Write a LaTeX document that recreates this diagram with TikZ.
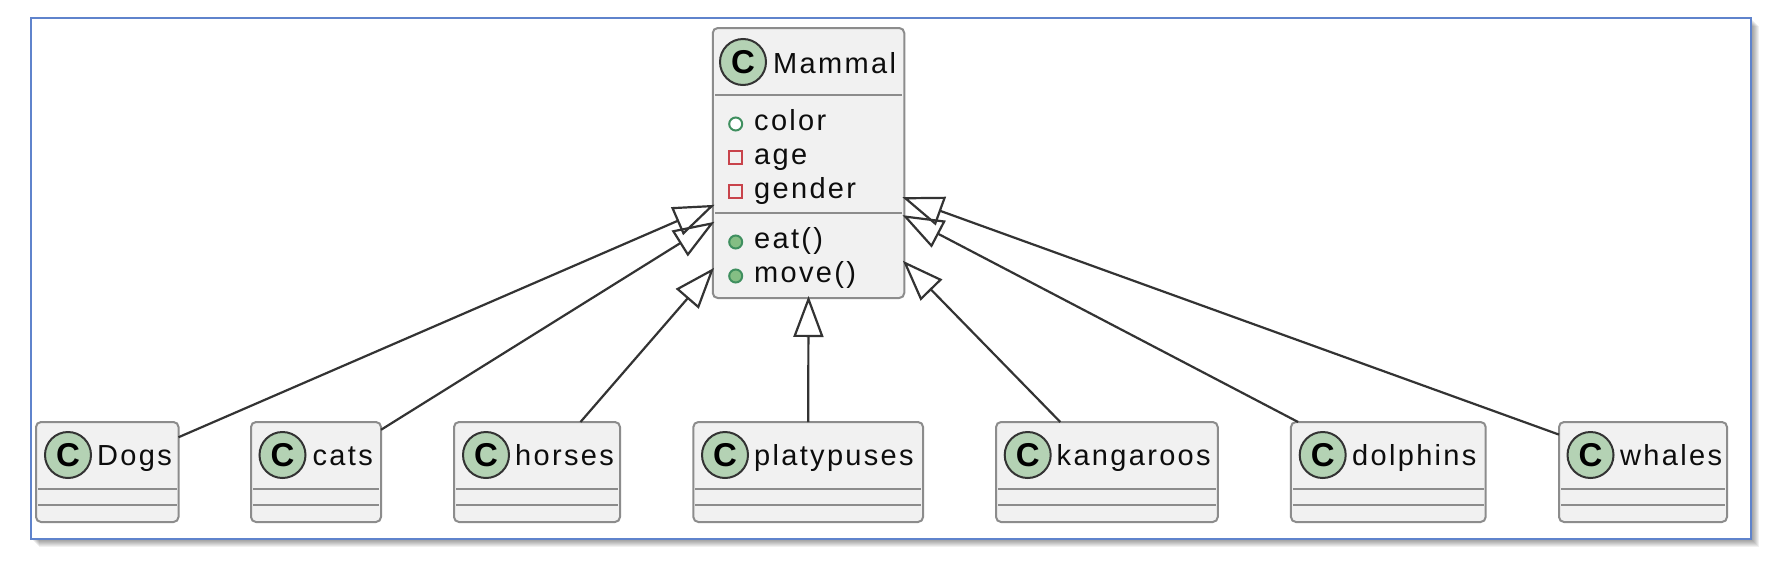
\documentclass[tikz,border=0pt]{standalone}
\usepackage{fontspec}
\setmainfont{Liberation Sans}
\newfontfamily\umlfont[LetterSpace=8]{Liberation Sans}
\usetikzlibrary{arrows.meta}
\definecolor{framecol}{HTML}{5F83CC}
\definecolor{boxfill}{HTML}{F1F1F1}
\definecolor{boxline}{HTML}{8C8C8C}
\definecolor{spotfill}{HTML}{B4D2B4}
\definecolor{spotline}{HTML}{333333}
\definecolor{pubfill}{HTML}{84BE84}
\definecolor{publine}{HTML}{3F8F5F}
\definecolor{privline}{HTML}{C8434B}
\tikzset{
	classbox/.style={draw=boxline, fill=boxfill, line width=2pt, rounded corners=5pt, outer sep=0pt, inner sep=0pt, minimum height=100pt},
	sepline/.style={draw=boxline, line width=2pt, shorten <=2pt, shorten >=2pt},
	spot/.style={circle, draw=spotline, fill=spotfill, line width=2pt, minimum size=46pt, inner sep=0pt, font=\fontsize{33}{33}\selectfont\bfseries},
	umltext/.style={anchor=base west, inner sep=0pt, text=black!95, font=\fontsize{29}{32}\selectfont\umlfont},
	pubop/.style={circle, draw=publine, fill=pubfill, line width=2pt, minimum size=13pt, inner sep=0pt},
	pubattr/.style={circle, draw=publine, fill=white, line width=2pt, minimum size=13pt, inner sep=0pt},
	privattr/.style={rectangle, draw=privline, fill=none, line width=2pt, minimum size=13pt, inner sep=0pt},
	extends/.style={draw=black!80, line width=2.2pt, shorten >=-2pt, -{Triangle[open, length=41pt, width=30pt]}}
}
\begin{document}
\begin{tikzpicture}[x=1pt, y=-1pt]
	\useasboundingbox (0,0) rectangle (1782,568);
	\foreach \s in {1,...,8}{
		\fill[black, opacity=0.06] (31+\s,18+\s) rectangle (1751+\s,539+\s);
	}
	\draw[draw=framecol, fill=white, line width=2pt] (31,18) rectangle (1751,539);
	\node[classbox, minimum width=191.5pt, minimum height=270pt] (mammal) at (808.5,163) {};
	\draw[sepline] (mammal.west |- 0,95) -- (mammal.east |- 0,95);
	\draw[sepline] (mammal.west |- 0,213) -- (mammal.east |- 0,213);
	\node[spot] (mammalspot) at (743,62) {C};
	\node[umltext] (mammaltitle) at (773,73) {Mammal};
	\node[pubattr] (coloricon) at (735.7,124) {};
	\node[privattr] (ageicon) at (735.7,157.5) {};
	\node[privattr] (gendericon) at (735.7,191) {};
	\node[pubop] (eaticon) at (735.7,242) {};
	\node[pubop] (moveicon) at (735.7,276) {};
	\node[umltext] (colortext) at (754,130) {color};
	\node[umltext] (agetext) at (754,164) {age};
	\node[umltext] (gendertext) at (754,198) {gender};
	\node[umltext] (eattext) at (754,248) {eat()};
	\node[umltext] (movetext) at (754,282) {move()};
	\foreach \n/\t/\xc/\w/\xs/\xt in {
		dogs/Dogs/107.25/142.5/68/97,
		cats/cats/316/130/282.5/312.5,
		horses/horses/537/166/486/515,
		platypuses/platypuses/808.2/229.7/725/754,
		kangaroos/kangaroos/1106.9/221.7/1027.7/1056.5,
		dolphins/dolphins/1388.3/194.7/1322.7/1352,
		whales/whales/1643/168/1590.5/1620}{
		\node[classbox, minimum width=\w pt] (\n) at (\xc,472) {};
		\draw[sepline] (\n.west |- 0,489) -- (\n.east |- 0,489);
		\draw[sepline] (\n.west |- 0,505) -- (\n.east |- 0,505);
		\node[spot] (\n spot) at (\xs,455) {C};
		\node[umltext] (\n title) at (\xt,465) {\t};
	}
	\draw[extends] (dogs.26) -- (mammal.204.5);
	\draw[extends] (cats.33.5) -- (mammal.212.3);
	\draw[extends] (horses.49.3) -- (mammal.228.7);
	\draw[extends] (platypuses.north) -- (mammal.south);
	\draw[extends] (kangaroos.133.8) -- (mammal.-46.3);
	\draw[extends] (dolphins.151.5) -- (mammal.-29);
	\draw[extends] (whales.156.8) -- (mammal.-20.1);
\end{tikzpicture}
\end{document}
